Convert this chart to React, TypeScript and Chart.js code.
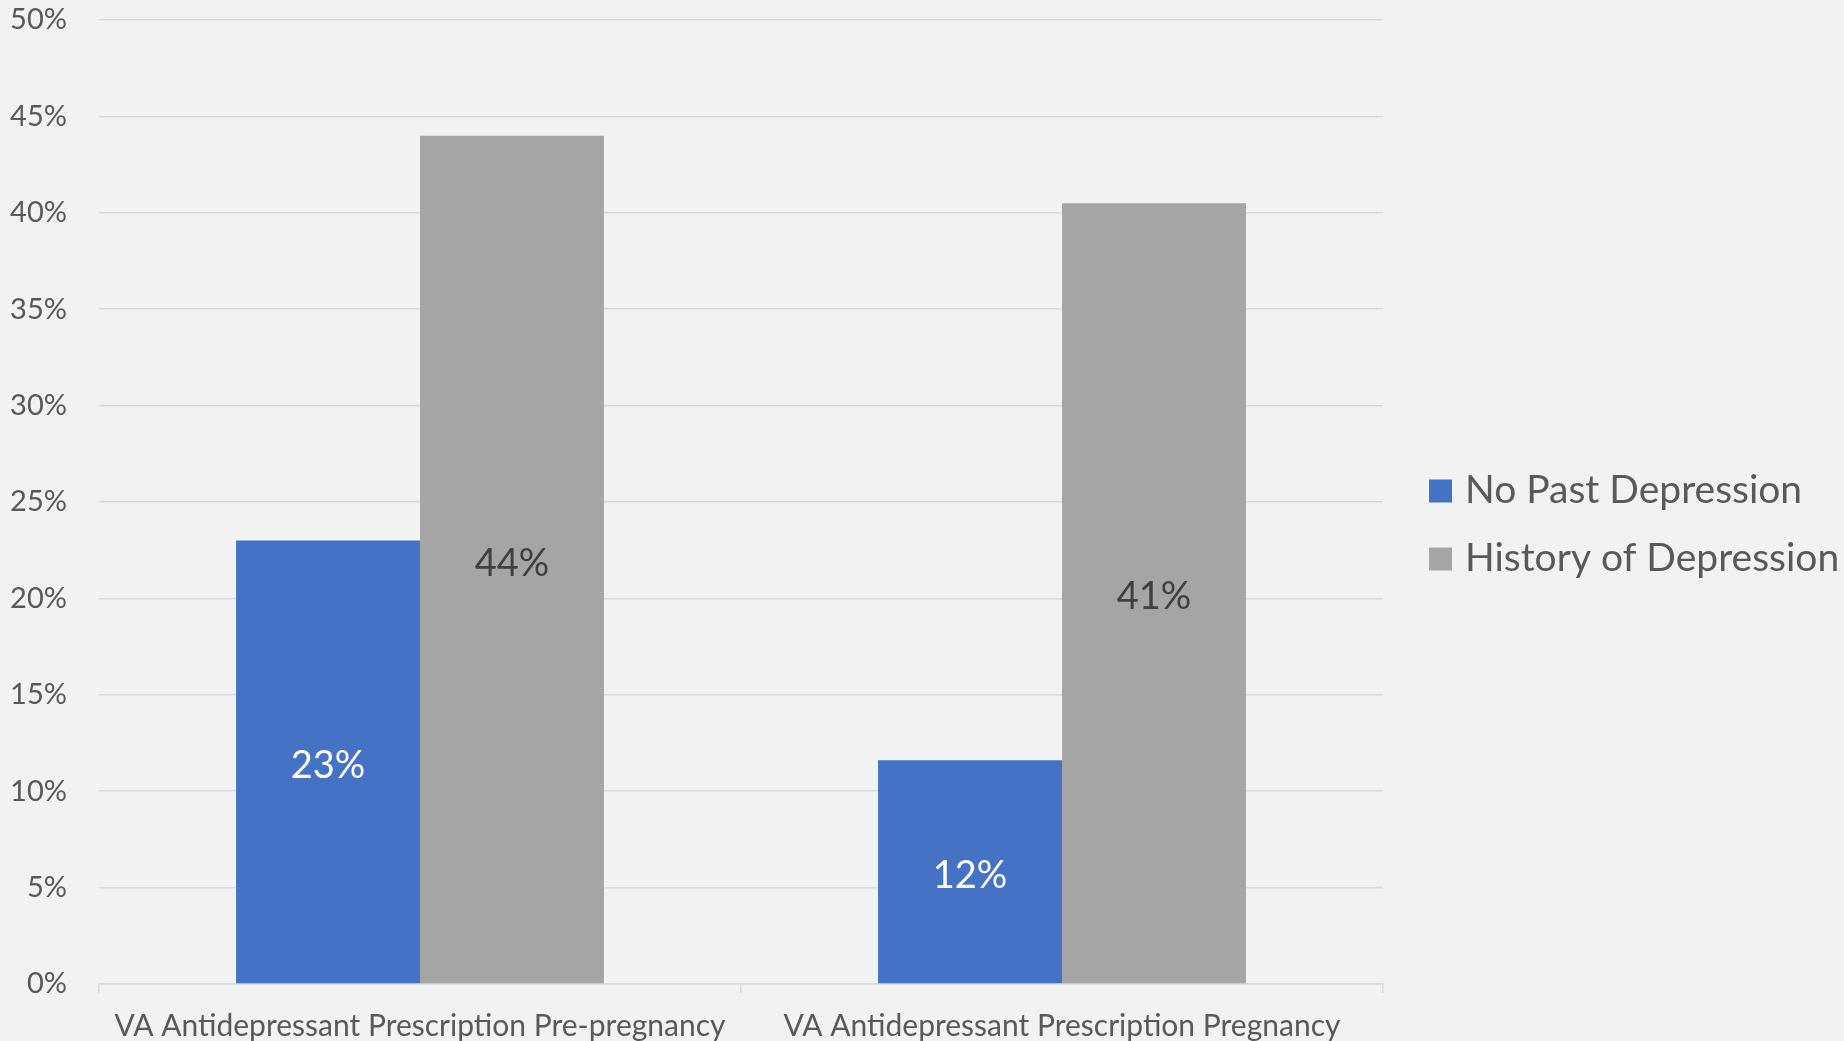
import React, { useEffect, useRef } from "react";
import { Chart, registerables } from "chart.js";

Chart.register(...registerables);

const categories = [
  "VA Antidepressant Prescription Pre-pregnancy",
  "VA Antidepressant Prescription Pregnancy",
];
const seriesNames = ["No Past Depression", "History of Depression"];
const noPastDepression = [23.0, 11.6];
const historyOfDepression = [44.0, 40.5];
const yTicks = [0, 5, 10, 15, 20, 25, 30, 35, 40, 45, 50];

const FONT = "Lato, 'Open Sans', sans-serif";
const TEXT = "#595959";
const GRID = "#d9d9d9";
const BLUE = "#4472c4";
const GRAY = "#a5a5a5";

const labelPlugin = {
  id: "barLabels",
  afterDatasetsDraw(chart: any) {
    const ctx = chart.ctx;
    ctx.save();
    ctx.font = `38px ${FONT}`;
    ctx.textAlign = "center";
    ctx.textBaseline = "middle";
    chart.data.datasets.forEach((ds: any, di: number) => {
      const meta = chart.getDatasetMeta(di);
      meta.data.forEach((el: any, i: number) => {
        const v = ds.data[i];
        ctx.fillStyle = di === 0 ? "#ffffff" : "#404040";
        ctx.fillText(Math.round(v) + "%", el.x, (el.y + el.base) / 2 + 4);
      });
    });
    ctx.restore();
  },
};

const legendPlugin = {
  id: "sideLegend",
  afterDraw(chart: any) {
    const ctx = chart.ctx;
    const area = chart.chartArea;
    ctx.save();
    ctx.font = `39px ${FONT}`;
    ctx.textAlign = "left";
    ctx.textBaseline = "middle";
    const n = chart.data.datasets.length;
    const spacing = 68;
    const cy = chart.height / 2 - ((n - 1) * spacing) / 2 + 4;
    chart.data.datasets.forEach((ds: any, i: number) => {
      const y = cy + i * spacing;
      const x = area.right + 46;
      ctx.fillStyle = ds.backgroundColor;
      ctx.fillRect(x, y - 11, 23, 23);
      ctx.fillStyle = TEXT;
      ctx.fillText(ds.label, x + 36, y);
    });
    ctx.restore();
  },
};

export default function App() {
  const ref = useRef<HTMLCanvasElement>(null);
  useEffect(() => {
    if (!ref.current) return;
    const chart = new Chart(ref.current, {
      type: "bar",
      data: {
        labels: categories,
        datasets: [
          {
            label: seriesNames[0],
            data: noPastDepression,
            backgroundColor: BLUE,
            categoryPercentage: 0.573,
            barPercentage: 1,
          },
          {
            label: seriesNames[1],
            data: historyOfDepression,
            backgroundColor: GRAY,
            categoryPercentage: 0.573,
            barPercentage: 1,
          },
        ],
      },
      options: {
        responsive: false,
        animation: false,
        devicePixelRatio: 1,
        layout: { padding: { top: 20, right: 461, left: 0, bottom: 0 } },
        plugins: {
          legend: { display: false },
          tooltip: { enabled: false },
        },
        scales: {
          x: {
            offset: true,
            grid: {
              offset: true,
              drawOnChartArea: false,
              drawTicks: true,
              tickLength: 9,
              color: GRID,
              lineWidth: 1.5,
            },
            border: { display: true, color: GRID, width: 1.5 },
            ticks: {
              color: TEXT,
              font: { family: FONT, size: 30 },
              padding: 15,
              maxRotation: 0,
              autoSkip: false,
            },
            afterFit(scale: any) {
              scale.height = 57;
              scale.paddingLeft = 0;
              scale.paddingRight = 0;
            },
          },
          y: {
            min: yTicks[0],
            max: yTicks[yTicks.length - 1],
            afterBuildTicks(scale: any) {
              scale.ticks = yTicks.map((v) => ({ value: v }));
            },
            grid: { color: GRID, lineWidth: 1.5, drawTicks: false },
            border: { display: false },
            ticks: {
              color: TEXT,
              font: { family: FONT, size: 29 },
              padding: 32,
              callback: (v: any) => v + "%",
            },
            afterFit(scale: any) {
              scale.width = 99;
              scale.paddingTop = 0;
              scale.paddingBottom = 0;
            },
          },
        },
      },
      plugins: [labelPlugin, legendPlugin],
    });
    return () => chart.destroy();
  }, []);
  return (
    <div
      style={{
        position: "fixed",
        left: 0,
        top: 0,
        width: 1844,
        height: 1041,
        background: "#f2f2f2",
      }}
    >
      <canvas ref={ref} width={1844} height={1041} />
    </div>
  );
}
